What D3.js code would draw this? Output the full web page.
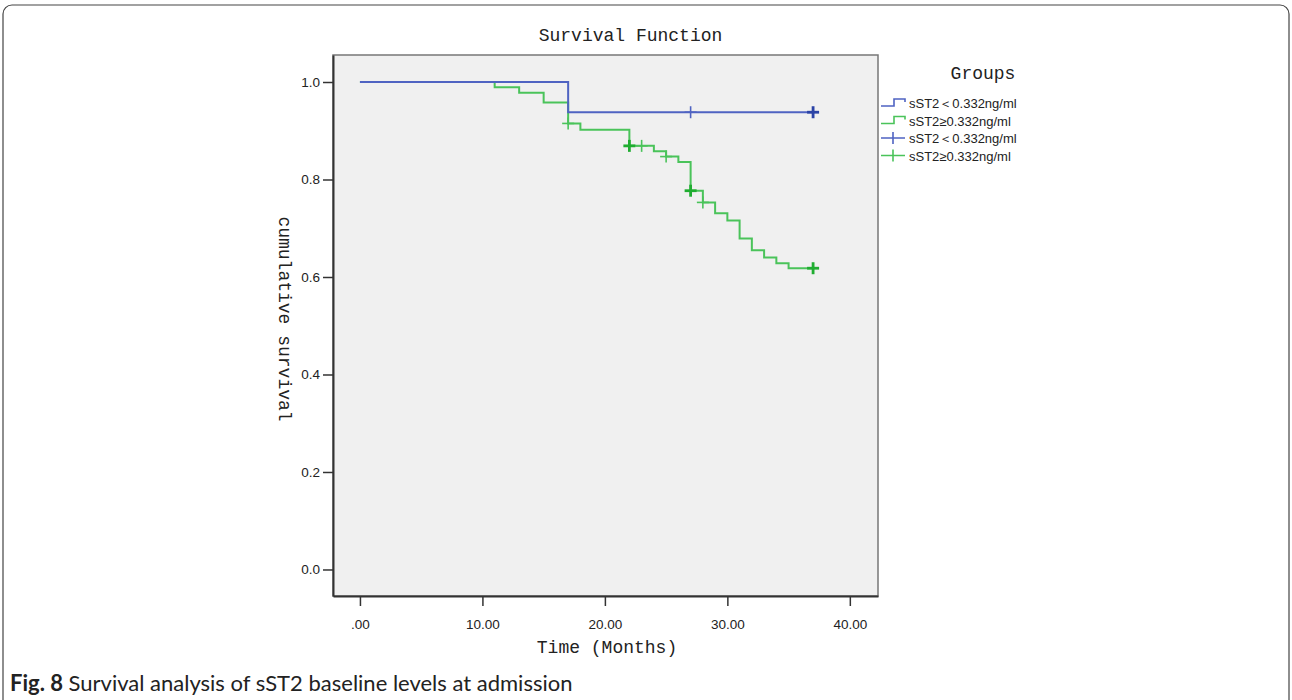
<!DOCTYPE html>
<html>
<head>
<meta charset="utf-8">
<script src="https://cdn.jsdelivr.net/npm/d3@7"></script>
<style>
  body { margin: 0; background: #fff; }
  svg { display: block; }
</style>
</head>
<body>
<div id="plot"></div>
<script>
// Kaplan-Meier estimates
var blueTimes = [0, 17, 37];
var blueSurv = [1.0, 0.938, 0.938];
var blueCensorTimes = [27, 37];
var blueCensorCount = [1, 3];

var greenTimes = [0, 11, 13, 15, 17, 18, 22, 24, 25, 26, 27, 28, 29, 30, 31, 32, 33, 34, 35, 37];
var greenSurv = [1.0, 0.989, 0.978, 0.958, 0.915, 0.902, 0.869, 0.858, 0.847, 0.836, 0.777, 0.753, 0.731, 0.716, 0.679, 0.655, 0.640, 0.628, 0.618, 0.618];
var greenCensorTimes = [17, 22, 23, 25, 27, 28, 37];
var greenCensorCount = [1, 2, 1, 1, 2, 1, 3];

var xTicks = [0, 10, 20, 30, 40];
var yTicks = [0, 0.2, 0.4, 0.6, 0.8, 1.0];
var legendLabels = ["sST2\uFF1C0.332ng/ml", "sST2\u22650.332ng/ml", "sST2\uFF1C0.332ng/ml", "sST2\u22650.332ng/ml"];

var blue = "#4f63c2", blueDark = "#2b43a6";
var green = "#4ac35a", greenDark = "#20ad31";
var mono = "'Liberation Mono', 'DejaVu Sans Mono', monospace";
var sans = "'Liberation Sans', Arial, sans-serif";

var W = 1292, H = 700;
var box = {left: 333, right: 878, top: 55, bottom: 596};

var svg = d3.select("#plot").append("svg")
  .attr("width", W)
  .attr("height", H);

// outer rounded frame
svg.append("rect")
  .attr("x", 3).attr("y", 5)
  .attr("width", W - 6).attr("height", H + 20)
  .attr("rx", 9)
  .attr("fill", "none")
  .attr("stroke", "#444")
  .attr("stroke-width", 1.2);

var x = d3.scaleLinear().domain([-2.2, 42.3]).range([box.left, box.right]);
var y = d3.scaleLinear().domain([-0.0544, 1.0554]).range([box.bottom, box.top]);

svg.append("rect")
  .attr("x", box.left).attr("y", box.top)
  .attr("width", box.right - box.left).attr("height", box.bottom - box.top)
  .attr("fill", "#f0f0f0")
  .attr("stroke", "#777")
  .attr("stroke-width", 1.5);

var xAxis = svg.append("g")
  .attr("transform", "translate(0," + box.bottom + ")")
  .call(d3.axisBottom(x).tickValues(xTicks).tickSize(10).tickSizeOuter(0)
    .tickFormat(function(d) { return d === 0 ? ".00" : d.toFixed(2); }));

var yAxis = svg.append("g")
  .attr("transform", "translate(" + box.left + ",0)")
  .call(d3.axisLeft(y).tickValues(yTicks).tickSize(10).tickSizeOuter(0)
    .tickFormat(d3.format(".1f")));

[xAxis, yAxis].forEach(function(a) {
  a.select(".domain").attr("stroke", "#333").attr("stroke-width", 2);
  a.selectAll(".tick line").attr("stroke", "#333").attr("stroke-width", 1.5);
  a.selectAll(".tick text").attr("fill", "#222")
    .style("font-family", sans).style("font-size", "13.5px");
});
xAxis.selectAll(".tick text").attr("dy", "1.45em");
yAxis.selectAll(".tick text").attr("x", -13);

var step = d3.line()
  .x(function(d) { return x(d[0]); })
  .y(function(d) { return y(d[1]); })
  .curve(d3.curveStepAfter);

function survAt(times, surv, t) {
  var s = surv[0];
  for (var i = 0; i < times.length; i++) if (times[i] <= t) s = surv[i];
  return s;
}

function drawCurve(times, surv, cTimes, cCount, col, colDark) {
  svg.append("path")
    .datum(d3.zip(times, surv))
    .attr("d", step)
    .attr("fill", "none")
    .attr("stroke", col)
    .attr("stroke-width", 2);

  var c = svg.append("g").selectAll("g")
    .data(d3.zip(cTimes, cCount))
    .enter().append("g")
    .attr("transform", function(d) {
      return "translate(" + x(d[0]) + "," + y(survAt(times, surv, d[0])) + ")";
    })
    .attr("stroke", function(d) { return d[1] > 1 ? colDark : col; })
    .attr("stroke-width", function(d) { return d[1] > 1 ? 2.8 : 1.6; });
  c.append("line").attr("x1", -6).attr("x2", 6).attr("y1", 0).attr("y2", 0);
  c.append("line").attr("x1", 0).attr("x2", 0).attr("y1", -6).attr("y2", 6);
}

drawCurve(greenTimes, greenSurv, greenCensorTimes, greenCensorCount, green, greenDark);
drawCurve(blueTimes, blueSurv, blueCensorTimes, blueCensorCount, blue, blueDark);

// titles
svg.append("text")
  .attr("x", (box.left + box.right) / 2 + 25).attr("y", 41)
  .attr("text-anchor", "middle")
  .style("font-family", mono).style("font-size", "18px").attr("fill", "#222")
  .text("Survival Function");

svg.append("text")
  .attr("x", 607).attr("y", 653)
  .attr("text-anchor", "middle")
  .style("font-family", mono).style("font-size", "18px").attr("fill", "#222")
  .text("Time (Months)");

svg.append("text")
  .attr("transform", "translate(279,319) rotate(90)")
  .attr("text-anchor", "middle")
  .style("font-family", mono).style("font-size", "18px").attr("fill", "#222")
  .text("cumulative survival");

// legend
svg.append("text")
  .attr("x", 983).attr("y", 79)
  .attr("text-anchor", "middle")
  .style("font-family", mono).style("font-size", "18px").attr("fill", "#222")
  .text("Groups");

var legendCols = [blue, green, blue, green];
var lg = svg.append("g").selectAll("g")
  .data(legendLabels)
  .enter().append("g")
  .attr("transform", function(d, i) { return "translate(881," + (103 + i * 17.5) + ")"; });

lg.filter(function(d, i) { return i < 2; }).append("path")
  .attr("d", "M0,3 H13 V-4 H24 V-1")
  .attr("fill", "none")
  .attr("stroke", function(d, i) { return legendCols[i]; })
  .attr("stroke-width", 1.6);

lg.filter(function(d, i) { return i >= 2; }).append("path")
  .attr("d", "M0,0 H24 M12,-6 V6")
  .attr("fill", "none")
  .attr("stroke", function(d, i) { return legendCols[i + 2]; })
  .attr("stroke-width", 1.6);

lg.append("text")
  .attr("x", 28).attr("y", 5)
  .style("font-family", sans).style("font-size", "13px").attr("fill", "#222")
  .text(function(d) { return d; });

// caption
var cap = svg.append("text")
  .attr("x", 10).attr("y", 691)
  .style("font-family", "Lato, 'Open Sans', sans-serif")
  .style("font-size", "22px").attr("fill", "#222");
cap.append("tspan").style("font-weight", "bold").text("Fig. 8");
cap.append("tspan").text(" Survival analysis of sST2 baseline levels at admission");
</script>
</body>
</html>
